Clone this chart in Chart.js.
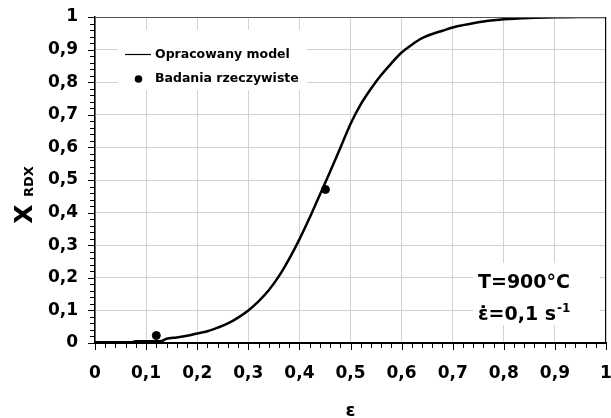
<!DOCTYPE html>
<html>
<head>
<meta charset="utf-8">
<script src="https://cdn.jsdelivr.net/npm/chart.js@4"></script>
<style>
  html, body { margin: 0; padding: 0; background: #fff; }
  canvas { display: block; }
</style>
</head>
<body>
<canvas id="chart" width="611" height="418"></canvas>
<script>
// Model curve
const modelStrain = [0, 0.02, 0.04, 0.06, 0.07, 0.08, 0.10, 0.12, 0.13, 0.14, 0.16, 0.18, 0.20,
    0.22, 0.24, 0.26, 0.28, 0.30, 0.32, 0.34, 0.36, 0.38, 0.40, 0.42, 0.44, 0.46, 0.48,
    0.50, 0.52, 0.54, 0.56, 0.58, 0.60, 0.62, 0.64, 0.66, 0.68, 0.70, 0.72, 0.74, 0.76,
    0.78, 0.80, 0.85, 0.90, 0.95, 1.00];
const modelX = [0.002, 0.002, 0.002, 0.002, 0.002, 0.005, 0.005, 0.005, 0.006, 0.013, 0.017, 0.022, 0.029,
    0.036, 0.047, 0.060, 0.078, 0.100, 0.128, 0.162, 0.205, 0.258, 0.318, 0.384, 0.455, 0.525, 0.598,
    0.672, 0.732, 0.780, 0.822, 0.858, 0.891, 0.915, 0.935, 0.948, 0.958, 0.968, 0.975, 0.981, 0.986,
    0.990, 0.993, 0.997, 0.999, 1.000, 1.000];

// Measured points
const testStrain = [0.12, 0.451];
const testX = [0.023, 0.471];

// Tick labels
const xTickLabels = ['0', '0,1', '0,2', '0,3', '0,4', '0,5', '0,6', '0,7', '0,8', '0,9', '1'];
const yTickLabels = ['0', '0,1', '0,2', '0,3', '0,4', '0,5', '0,6', '0,7', '0,8', '0,9', '1'];

const seriesNames = ['Opracowany model', 'Badania rzeczywiste'];

const FONT = 'DejaVu Sans';

// Draws minor ticks, frame, legend, annotation and axis titles
const decorPlugin = {
    id: 'decor',
    beforeDatasetsDraw(chart) {
        const ctx = chart.ctx;
        ctx.save();
        // white boxes over the grid
        ctx.fillStyle = '#fff';
        ctx.fillRect(118, 30, 189, 60);
        ctx.fillRect(473, 263, 127, 62);

        // legend
        ctx.strokeStyle = '#000';
        ctx.lineWidth = 1.2;
        ctx.beginPath();
        ctx.moveTo(125, 54.5);
        ctx.lineTo(151, 54.5);
        ctx.stroke();
        ctx.fillStyle = '#000';
        ctx.beginPath();
        ctx.arc(138.5, 79, 3.8, 0, Math.PI * 2);
        ctx.fill();
        ctx.font = 'bold 12.5px ' + FONT;
        ctx.textAlign = 'left';
        ctx.textBaseline = 'middle';
        ctx.fillText(chart.data.datasets[0].label, 155, 55);
        ctx.fillText(chart.data.datasets[1].label, 155, 79);

        // annotation
        ctx.textBaseline = 'alphabetic';
        ctx.font = 'bold 19px ' + FONT;
        ctx.fillText('T=900°C', 478, 288);
        const line2 = 'ε\u0307=0,1 s';
        ctx.fillText(line2, 478, 320);
        const w = ctx.measureText(line2).width;
        ctx.font = 'bold 12px ' + FONT;
        ctx.fillText('-1', 478 + w + 1, 312);
        ctx.restore();
    },
    afterDraw(chart) {
        const ctx = chart.ctx;
        const area = chart.chartArea;
        const xs = chart.scales.x;
        const ys = chart.scales.y;
        ctx.save();
        // top and right frame
        ctx.strokeStyle = '#555';
        ctx.lineWidth = 1;
        ctx.beginPath();
        ctx.moveTo(area.left, area.top + 0.5);
        ctx.lineTo(area.right, area.top + 0.5);
        ctx.stroke();
        ctx.strokeStyle = '#000';
        ctx.beginPath();
        ctx.moveTo(area.right - 0.5, area.top);
        ctx.lineTo(area.right - 0.5, area.bottom);
        ctx.stroke();

        // ticks, outward, every 0.02
        ctx.lineWidth = 1;
        ctx.strokeStyle = '#000';
        ctx.beginPath();
        for (let i = 0; i <= 50; i++) {
            const v = i / 50;
            const len = i % 5 === 0 ? 7 : 5;
            const px = Math.round(xs.getPixelForValue(v)) + 0.5;
            ctx.moveTo(px, area.bottom);
            ctx.lineTo(px, area.bottom + len);
            const py = Math.round(ys.getPixelForValue(v)) + 0.5;
            ctx.moveTo(area.left, py);
            ctx.lineTo(area.left - len, py);
        }
        ctx.stroke();

        // axis titles
        ctx.fillStyle = '#000';
        ctx.font = 'bold 18px ' + FONT;
        ctx.textAlign = 'center';
        ctx.textBaseline = 'alphabetic';
        ctx.fillText('ε', (area.left + area.right) / 2, 416);

        ctx.translate(32, 214);
        ctx.rotate(-Math.PI / 2);
        ctx.textAlign = 'left';
        ctx.font = 'bold 25px ' + FONT;
        const xw = ctx.measureText('X').width;
        ctx.fillText('X', -xw / 2, 0);
        ctx.font = 'bold 13px ' + FONT;
        ctx.fillText('RDX', 17, 1);
        ctx.restore();
    }
};

const ctx = document.getElementById('chart').getContext('2d');
const chart = new Chart(ctx, {
    type: 'scatter',
    data: {
        datasets: [{
            label: seriesNames[0],
            data: modelStrain.map((s, i) => ({ x: s, y: modelX[i] })),
            showLine: true,
            borderColor: '#000',
            borderWidth: 2.5,
            pointRadius: 0,
            cubicInterpolationMode: 'monotone'
        }, {
            label: seriesNames[1],
            data: testStrain.map((s, i) => ({ x: s, y: testX[i] })),
            showLine: false,
            backgroundColor: '#000',
            borderColor: '#000',
            pointRadius: 4,
            pointHoverRadius: 4
        }]
    },
    options: {
        responsive: false,
        animation: false,
        devicePixelRatio: 1,
        layout: {
            padding: { left: 0, right: 1, top: 17, bottom: 0 }
        },
        scales: {
            x: {
                type: 'linear',
                min: 0,
                max: 1,
                ticks: {
                    stepSize: 0.1,
                    color: '#000',
                    padding: 20,
                    maxRotation: 0,
                    font: { family: FONT, size: 17, weight: 'bold' },
                    callback: (v, i) => xTickLabels[i]
                },
                grid: { color: '#d2d2d2', lineWidth: 1, drawTicks: false },
                border: { display: true, color: '#000', width: 2 },
                afterFit: axis => {
                    axis.height = 75;
                    axis.paddingLeft = 0;
                    axis.paddingRight = 0;
                }
            },
            y: {
                type: 'linear',
                min: 0,
                max: 1,
                ticks: {
                    stepSize: 0.1,
                    color: '#000',
                    padding: 17,
                    font: { family: FONT, size: 17, weight: 'bold' },
                    callback: (v, i) => yTickLabels[i]
                },
                grid: { color: '#d2d2d2', lineWidth: 1, drawTicks: false },
                border: { display: true, color: '#000', width: 1.5 },
                afterFit: axis => {
                    axis.width = 95;
                    axis.paddingTop = 0;
                    axis.paddingBottom = 0;
                }
            }
        },
        plugins: {
            legend: { display: false },
            tooltip: { enabled: false }
        }
    },
    plugins: [decorPlugin]
});
</script>
</body>
</html>
